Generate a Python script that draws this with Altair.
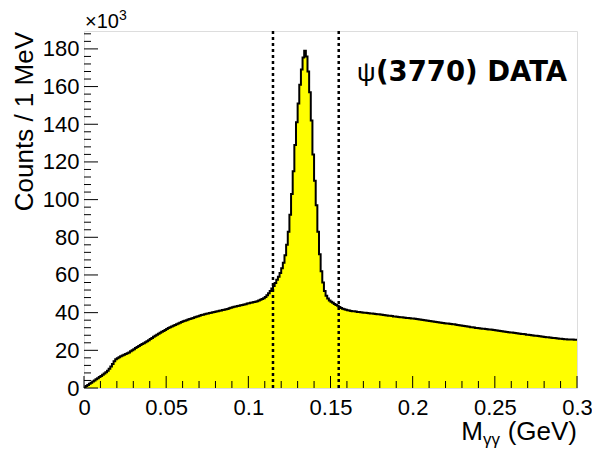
import altair as alt
import pandas as pd

# bin contents in thousands of counts, 1 MeV bins from 0 to 0.3 GeV
counts_k = [
    0.3, 1.0, 1.6, 2.2, 2.8, 3.4, 4.0, 4.6, 5.2, 5.8,
    6.4, 7.0, 7.7, 8.4, 9.2, 10.2, 11.4, 12.8, 14.2, 15.2,
    15.8, 16.3, 16.8, 17.2, 17.6, 18.0, 18.4, 18.9, 19.5, 20.1,
    20.6, 21.2, 21.8, 22.3, 22.8, 23.3, 23.8, 24.3, 24.8, 25.4,
    26.0, 26.6, 27.2, 27.8, 28.3, 28.8, 29.3, 29.8, 30.3, 30.8,
    31.3, 31.8, 32.3, 32.7, 33.1, 33.5, 33.9, 34.3, 34.7, 35.0,
    35.4, 35.7, 36.0, 36.3, 36.6, 36.9, 37.2, 37.5, 37.8, 38.1,
    38.4, 38.7, 38.9, 39.2, 39.4, 39.6, 39.8, 40.0, 40.2, 40.4,
    40.6, 40.8, 41.0, 41.2, 41.4, 41.6, 41.8, 42.0, 42.3, 42.6,
    42.9, 43.1, 43.3, 43.5, 43.7, 43.9, 44.1, 44.3, 44.5, 44.8,
    45.0, 45.2, 45.4, 45.6, 45.8, 46.1, 46.4, 46.8, 47.2, 47.7,
    48.3, 49.2, 50.3, 51.5, 52.8, 54.2, 55.8, 57.4, 59.0, 61.0,
    63.5, 66.5, 70.5, 76.0, 83.0, 92.0, 103.0, 115.0, 129.0, 141.0,
    151.0, 161.0, 169.0, 175.5, 179.0, 176.0, 168.0, 157.0, 142.0, 124.0,
    110.0, 97.0, 83.0, 71.0, 62.0, 56.0, 51.5, 49.0, 47.5, 46.5,
    45.8, 45.2, 44.6, 44.1, 43.6, 43.0, 42.5, 42.1, 41.8, 41.5,
    41.3, 41.1, 40.9, 40.8, 40.7, 40.6, 40.4, 40.3, 40.2, 40.1,
    40.0, 39.9, 39.8, 39.7, 39.6, 39.5, 39.4, 39.3, 39.2, 39.1,
    39.0, 38.9, 38.8, 38.6, 38.5, 38.4, 38.3, 38.2, 38.0, 37.9,
    37.8, 37.7, 37.6, 37.5, 37.4, 37.3, 37.2, 37.1, 37.0, 36.9,
    36.9, 36.8, 36.6, 36.5, 36.4, 36.2, 36.1, 36.0, 35.8, 35.7,
    35.6, 35.4, 35.3, 35.2, 35.0, 34.9, 34.8, 34.6, 34.5, 34.4,
    34.3, 34.2, 34.1, 34.0, 33.9, 33.8, 33.6, 33.5, 33.3, 33.2,
    33.1, 32.9, 32.8, 32.6, 32.5, 32.3, 32.2, 32.1, 31.9, 31.8,
    31.7, 31.6, 31.5, 31.4, 31.3, 31.2, 31.1, 31.0, 30.9, 30.8,
    30.7, 30.5, 30.4, 30.3, 30.1, 30.0, 29.9, 29.7, 29.6, 29.5,
    29.4, 29.3, 29.2, 29.0, 28.9, 28.8, 28.7, 28.6, 28.5, 28.3,
    28.2, 28.1, 28.0, 27.9, 27.8, 27.7, 27.6, 27.5, 27.3, 27.2,
    27.1, 27.0, 26.9, 26.8, 26.7, 26.6, 26.5, 26.4, 26.3, 26.2,
    26.1, 26.0, 25.9, 25.9, 25.8, 25.8, 25.7, 25.7, 25.6, 25.6,
]
bin_width = 0.001
cut_lines = [0.115, 0.155]
x_major = [0.0, 0.05, 0.1, 0.15, 0.2, 0.25, 0.3]
x_minor = [i / 100 for i in range(0, 31) if i % 5 != 0]
y_major = [0, 20000, 40000, 60000, 80000, 100000, 120000, 140000, 160000, 180000]
y_minor = [v for v in range(4000, 189000, 4000) if v % 20000 != 0]

FONT = "Liberation Sans"
LEFT = 76
W, H = 493, 357
X_DOM = [0, 0.3]
Y_DOM = [0, 189500]

edges = [i * bin_width for i in range(len(counts_k))] + [len(counts_k) * bin_width]
vals = [c * 1000 for c in counts_k] + [counts_k[-1] * 1000]
hist = pd.DataFrame({"x": edges, "y": vals})

xs = alt.Scale(domain=X_DOM, nice=False, zero=False)
ys = alt.Scale(domain=Y_DOM, nice=False)

x_axis = alt.Axis(
    values=x_major, ticks=False, domain=False, grid=False, title=None,
    labelFont=FONT, labelFontSize=22, labelColor="black", labelPadding=9,
    labelExpr="datum.value == 0 ? '0' : format(datum.value, '.2~f')",
    labelFlush=False, labelOverlap=False)
y_axis = alt.Axis(
    values=y_major, ticks=False, domain=False, grid=False, title=None,
    labelFont=FONT, labelFontSize=22, labelColor="black", labelPadding=5,
    labelExpr="format(datum.value / 1000, 'd')", labelFlush=False, labelOverlap=False)

area = alt.Chart(hist).mark_area(interpolate="step-after", color="#ffff00", clip=True).encode(
    x=alt.X("x:Q", scale=xs, axis=x_axis),
    y=alt.Y("y:Q", scale=ys, axis=y_axis),
)
outline = alt.Chart(hist).mark_line(interpolate="step-after", color="black", strokeWidth=2, clip=True).encode(
    x=alt.X("x:Q", scale=xs, axis=x_axis), y=alt.Y("y:Q", scale=ys, axis=y_axis)
)
cuts = alt.Chart(pd.DataFrame({"c": cut_lines})).mark_rule(
    color="black", strokeWidth=2.5, strokeDash=[3, 3]
).encode(x=alt.X("c:Q", scale=xs, axis=x_axis))

def xticks(vals, length):
    return alt.Chart(pd.DataFrame({"t": vals})).mark_rule(color="black", strokeWidth=1).encode(
        x=alt.X("t:Q", scale=xs, axis=x_axis), y=alt.value(H), y2=alt.value(H - length))

def yticks(vals, length):
    return alt.Chart(pd.DataFrame({"t": vals})).mark_rule(color="black", strokeWidth=1).encode(
        y=alt.Y("t:Q", scale=ys, axis=y_axis), x=alt.value(0), x2=alt.value(length))

def label(text, x, y, size, align="left", bold=False, angle=0, font=FONT):
    return alt.Chart(pd.DataFrame({"t": [text]})).mark_text(
        font=font, fontSize=size, align=align, baseline="alphabetic", color="black",
        fontWeight="bold" if bold else "normal", angle=angle,
    ).encode(text="t:N", x=alt.value(x), y=alt.value(y))

texts = [
    label("Counts / 1 MeV", -51, 1, 26, align="right", angle=270),
    label("(GeV)", W, 409, 26, align="right"),
    label("γγ", W - 77, 414, 17, align="right"),
    label("M", W - 94, 409, 26, align="right"),
    label("×10", 1, -3, 20),
    label("3", 35, -11, 14),
    label("ψ", 273, 50, 26),
    label("(3770) DATA", 292, 50, 27.5, bold=True, font="DejaVu Sans"),
]

chart = alt.layer(
    area, outline, cuts,
    xticks(x_major, 12), xticks(x_minor, 7),
    yticks(y_major, 14), yticks(y_minor, 7),
    *texts,
).properties(
    width=W, height=H,
    autosize=alt.AutoSizeParams(type="none"),
    padding={"left": LEFT, "top": 23, "right": 584 - LEFT - W, "bottom": 61},
).configure_view(stroke="black", strokeWidth=1.5).configure(background="white")

chart.save("out.html", embed_options={"renderer": "svg", "actions": False})
